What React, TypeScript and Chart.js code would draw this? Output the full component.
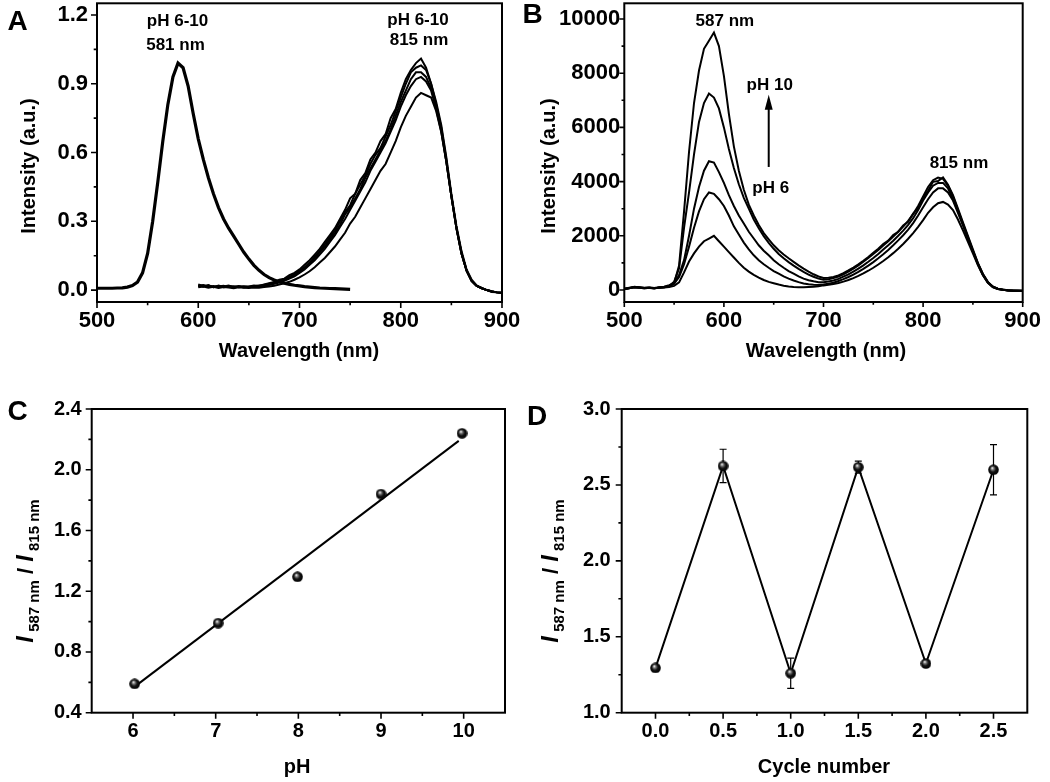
import React, { useEffect, useRef } from "react";
import { Chart, registerables } from "chart.js";
Chart.register(...registerables);

const FONT = '"Liberation Sans", Arial, Helvetica, sans-serif';

// ---------------- Panel A data ----------------
const wlA1 = [500,505,510,515,520,525,530,535,540,545,550,555,560,565,570,575,580,585,590,595,600,605,610,615,620,625,630,635,640,645,650,655,660,665,670,675,680,685,690,695,700,705,710,715,720,725,730,735,740,745,750];
const intA581 = [
  0.008,0.008,0.008,0.008,0.009,0.010,0.013,0.020,0.035,0.075,
  0.16,0.30,0.47,0.65,0.81,0.93,0.99,0.97,0.89,0.77,
  0.66,0.57,0.49,0.42,0.36,0.31,0.27,0.235,0.20,0.165,
  0.135,0.108,0.086,0.068,0.054,0.044,0.036,0.030,0.025,0.021,
  0.018,0.015,0.013,0.011,0.009,0.008,0.007,0.006,0.005,0.004,
  0.003];

const wlA2 = [600,605,610,615,620,625,630,635,640,645,650,655,660,665,670,675,680,685,690,695,700,705,710,715,720,725,730,735,740,745,750,755,760,765,770,775,780,785,790,795,800,805,810,815,820,825,830,835,840,845,850,855,860,865,870,875,880,885,890,895,900];
const intA815a = [
  0.025,0.018,0.02,0.015,0.018,0.012,0.016,0.014,0.018,0.013,
  0.016,0.02,0.018,0.025,0.03,0.035,0.045,0.05,0.065,0.075,
  0.09,0.11,0.13,0.155,0.18,0.21,0.24,0.27,0.31,0.35,
  0.40,0.42,0.48,0.51,0.57,0.60,0.65,0.68,0.75,0.79,
  0.86,0.92,0.96,0.99,1.01,0.97,0.9,0.82,0.72,0.58,
  0.42,0.28,0.17,0.09,0.045,0.02,0.01,0.0,-0.005,-0.01,
  -0.012];
const intA815b = [
  0.02,0.015,0.022,0.012,0.016,0.019,0.013,0.017,0.012,0.015,
  0.014,0.017,0.02,0.022,0.028,0.033,0.04,0.048,0.058,0.07,
  0.085,0.1,0.12,0.145,0.17,0.2,0.23,0.26,0.3,0.34,
  0.37,0.42,0.46,0.5,0.55,0.59,0.62,0.67,0.72,0.78,
  0.84,0.9,0.95,0.97,0.98,0.96,0.9,0.81,0.71,0.57,
  0.41,0.27,0.16,0.085,0.04,0.018,0.008,0.0,-0.008,-0.01,
  -0.012];
const intA815c = [
  0.018,0.022,0.014,0.018,0.012,0.016,0.02,0.013,0.016,0.011,
  0.015,0.013,0.016,0.02,0.024,0.03,0.036,0.044,0.054,0.066,
  0.08,0.095,0.115,0.14,0.165,0.19,0.22,0.25,0.285,0.33,
  0.36,0.4,0.44,0.49,0.53,0.57,0.61,0.65,0.7,0.76,
  0.82,0.87,0.92,0.95,0.95,0.93,0.88,0.8,0.7,0.56,
  0.41,0.27,0.16,0.085,0.04,0.018,0.008,0.0,-0.006,-0.01,
  -0.013];
const intA815d = [
  0.015,0.02,0.017,0.012,0.02,0.014,0.018,0.012,0.015,0.017,
  0.013,0.015,0.014,0.018,0.022,0.027,0.033,0.04,0.05,0.06,
  0.075,0.09,0.11,0.13,0.155,0.18,0.21,0.24,0.275,0.31,
  0.35,0.39,0.43,0.47,0.52,0.56,0.6,0.64,0.69,0.74,
  0.8,0.85,0.89,0.92,0.93,0.91,0.87,0.79,0.69,0.56,
  0.41,0.27,0.16,0.085,0.04,0.018,0.008,0.0,-0.006,-0.01,
  -0.012];
const intA815e = [
  0.012,0.016,0.01,0.014,0.009,0.013,0.011,0.008,0.012,0.01,
  0.009,0.011,0.01,0.013,0.016,0.019,0.024,0.03,0.036,0.045,
  0.055,0.068,0.082,0.1,0.12,0.14,0.165,0.19,0.22,0.25,
  0.29,0.32,0.36,0.4,0.44,0.48,0.52,0.55,0.6,0.65,
  0.71,0.76,0.8,0.84,0.86,0.85,0.84,0.78,0.69,0.56,
  0.41,0.27,0.16,0.085,0.04,0.018,0.008,0.0,-0.006,-0.01,
  -0.012];

// ---------------- Panel B data ----------------
const wlB = [500,505,510,515,520,525,530,535,540,545,550,555,560,565,570,575,580,585,590,595,600,605,610,615,620,625,630,635,640,645,650,655,660,665,670,675,680,685,690,695,700,705,710,715,720,725,730,735,740,745,750,755,760,765,770,775,780,785,790,795,800,805,810,815,820,825,830,835,840,845,850,855,860,865,870,875,880,885,890,895,900];
const intB_pH10 = [
  30,60,120,100,80,90,70,100,120,180,
  250,900,2900,5100,6900,8100,8900,9200,9500,9000,
  7900,6500,5300,4400,3700,3150,2750,2400,2100,1870,
  1650,1470,1310,1170,1040,910,790,680,580,500,
  440,450,480,540,620,720,830,950,1080,1220,
  1370,1520,1700,1820,2030,2150,2380,2520,2820,3010,
  3400,3660,3990,4020,4150,3880,3500,3000,2500,2000,
  1500,1000,600,300,130,50,15,-5,-20,-25,
  -30];
const intB_pH9 = [
  40,70,110,90,70,80,60,90,110,150,
  300,800,2300,3600,5000,6200,6900,7250,7100,6700,
  6000,5200,4500,3900,3400,3000,2600,2280,1990,1740,
  1520,1330,1170,1030,900,780,670,570,490,420,
  380,400,440,500,580,680,790,910,1040,1180,
  1330,1480,1640,1800,1970,2150,2340,2550,2800,3100,
  3450,3800,4050,4150,4100,3850,3450,2950,2450,1950,
  1450,980,580,290,120,45,10,-10,-20,-30,
  -30];
const intB_pH8 = [
  50,80,100,90,60,80,70,80,100,140,
  250,550,1100,2000,3000,3800,4400,4750,4700,4350,
  3950,3500,3100,2750,2450,2150,1900,1650,1450,1280,
  1100,950,820,700,600,500,420,360,320,290,
  290,310,350,410,490,580,680,790,910,1040,
  1180,1330,1490,1650,1820,2000,2190,2400,2650,2950,
  3300,3600,3850,3950,3950,3750,3350,2900,2420,1920,
  1430,960,570,280,115,40,5,-10,-25,-30,
  -35];
const intB_pH7 = [
  40,60,110,80,70,70,60,90,100,130,
  230,480,950,1600,2300,2900,3350,3600,3550,3350,
  3100,2750,2350,2050,1750,1500,1280,1100,950,820,
  700,600,500,420,350,290,240,210,190,180,
  200,230,270,330,400,480,570,670,780,900,
  1030,1170,1320,1480,1650,1830,2020,2230,2470,2750,
  3050,3350,3600,3750,3750,3600,3300,2850,2380,1900,
  1420,950,560,270,110,40,5,-15,-25,-30,
  -35];
const intB_pH6 = [
  50,70,100,90,70,80,60,80,90,110,
  150,280,650,1050,1350,1600,1800,1900,2000,1800,
  1600,1400,1200,1000,820,680,560,460,370,300,
  250,200,160,130,110,100,100,110,120,140,
  170,190,220,260,310,370,440,520,610,710,
  820,940,1070,1210,1360,1520,1700,1890,2100,2330,
  2580,2850,3050,3200,3250,3150,2950,2600,2200,1780,
  1350,920,540,260,105,35,5,-15,-25,-30,
  -30];

// ---------------- Panel C data ----------------
const pHValues = [6.02, 7.03, 7.99, 9.0, 9.98];
const ratioC = [0.59, 0.99, 1.295, 1.84, 2.24];
const fitX = [6.04, 9.94];
const fitY = [0.58, 2.19];

// ---------------- Panel D data ----------------
const cycleX = [0, 0.5, 1.0, 1.5, 2.0, 2.5];
const ratioD = [1.295, 2.625, 1.26, 2.617, 1.324, 2.6];
const errD = [0, 0.11, 0.1, 0.04, 0.01, 0.165];

// ---------------- Tick lists ----------------
const wlTicks = [500, 600, 700, 800, 900];
const wlMinor = [550, 650, 750, 850];
const aYTicks = [0, 0.3, 0.6, 0.9, 1.2];
const aYMinor = [0.15, 0.45, 0.75, 1.05];
const bYTicks = [0, 2000, 4000, 6000, 8000, 10000];
const bYMinor = [1000, 3000, 5000, 7000, 9000];
const cXTicks = [6, 7, 8, 9, 10];
const cXMinor = [6.5, 7.5, 8.5, 9.5];
const cYTicks = [0.4, 0.8, 1.2, 1.6, 2.0, 2.4];
const cYMinor = [0.6, 1.0, 1.4, 1.8, 2.2];
const dXTicks = [0, 0.5, 1.0, 1.5, 2.0, 2.5];
const dXMinor = [0.25, 0.75, 1.25, 1.75, 2.25];
const dYTicks = [1.0, 1.5, 2.0, 2.5, 3.0];
const dYMinor = [1.25, 1.75, 2.25, 2.75];

const xy = (xs: number[], ys: number[]) => xs.map((x, i) => ({ x, y: ys[i] }));

let ballCache: HTMLCanvasElement | null = null;
function ball(): HTMLCanvasElement {
  if (ballCache) return ballCache;
  const c = document.createElement("canvas");
  c.width = 11; c.height = 11;
  const g = c.getContext("2d")!;
  const grad = g.createRadialGradient(4.2, 3.8, 0.3, 5.5, 5.5, 5.5);
  grad.addColorStop(0, "#f2f2f2");
  grad.addColorStop(0.22, "#7a7a7a");
  grad.addColorStop(0.55, "#111");
  grad.addColorStop(1, "#000");
  g.fillStyle = grad;
  g.beginPath(); g.arc(5.5, 5.5, 5.3, 0, Math.PI * 2); g.fill();
  ballCache = c;
  return c;
}

type Txt = { text: string; x: number; y: number; size: number; data?: boolean; rot?: boolean };
interface Spec {
  w: number; h: number;
  area: { left: number; right: number; top: number; bottom: number };
  xMin: number; xMax: number; yMin: number; yMax: number;
  xTicks: number[]; xMinor: number[]; yTicks: number[]; yMinor: number[];
  xFmt: (v: number) => string; yFmt: (v: number) => string;
  xPad: number; yPad: number; tickLen: number; tickFont: number;
  datasets: any[];
  texts: Txt[];
  ratioTitle?: { x: number; y: number };
  extra?: (chart: any) => void;
  under?: (chart: any) => void;
}

function drawRatioTitle(ctx: CanvasRenderingContext2D, bx: number, cy: number) {
  const segs = [
    { t: "I", f: `italic bold 24px ${FONT}`, dy: 0 },
    { t: " 587 nm", f: `bold 15px ${FONT}`, dy: 6 },
    { t: " / ", f: `bold 22px ${FONT}`, dy: 0 },
    { t: "I", f: `italic bold 24px ${FONT}`, dy: 0 },
    { t: " 815 nm", f: `bold 15px ${FONT}`, dy: 6 },
  ];
  let total = 0;
  const widths = segs.map((s) => { ctx.font = s.f; const w = ctx.measureText(s.t).width; total += w; return w; });
  ctx.save();
  ctx.translate(bx, cy);
  ctx.rotate(-Math.PI / 2);
  ctx.textAlign = "left";
  ctx.textBaseline = "alphabetic";
  let x = -total / 2;
  segs.forEach((s, i) => { ctx.font = s.f; ctx.fillText(s.t, x, s.dy); x += widths[i]; });
  ctx.restore();
}

function framePlugin(s: Spec) {
  return {
    id: "frame",
    beforeDatasetsDraw(chart: any) {
      if (s.under) { chart.ctx.save(); s.under(chart); chart.ctx.restore(); }
    },
    afterDraw(chart: any) {
      const { ctx, chartArea: a } = chart;
      const xs = chart.scales.x, ys = chart.scales.y;
      ctx.save();
      ctx.strokeStyle = "#000";
      ctx.lineWidth = 2;
      ctx.strokeRect(a.left, a.top, a.right - a.left, a.bottom - a.top);
      ctx.lineWidth = 1.6;
      ctx.beginPath();
      s.xTicks.forEach((v) => { const p = xs.getPixelForValue(v); ctx.moveTo(p, a.bottom); ctx.lineTo(p, a.bottom + s.tickLen); });
      s.xMinor.forEach((v) => { const p = xs.getPixelForValue(v); ctx.moveTo(p, a.bottom); ctx.lineTo(p, a.bottom + s.tickLen * 0.55); });
      s.yTicks.forEach((v) => { const p = ys.getPixelForValue(v); ctx.moveTo(a.left, p); ctx.lineTo(a.left - s.tickLen, p); });
      s.yMinor.forEach((v) => { const p = ys.getPixelForValue(v); ctx.moveTo(a.left, p); ctx.lineTo(a.left - s.tickLen * 0.55, p); });
      ctx.stroke();
      ctx.fillStyle = "#000";
      ctx.textAlign = "center";
      ctx.textBaseline = "middle";
      s.texts.forEach((t) => {
        ctx.font = `bold ${t.size}px ${FONT}`;
        let x = t.x, y = t.y;
        if (t.data) { x = xs.getPixelForValue(t.x); y = ys.getPixelForValue(t.y); }
        if (t.rot) {
          ctx.save(); ctx.translate(x, y); ctx.rotate(-Math.PI / 2); ctx.fillText(t.text, 0, 0); ctx.restore();
        } else ctx.fillText(t.text, x, y);
      });
      if (s.ratioTitle) drawRatioTitle(ctx, s.ratioTitle.x, s.ratioTitle.y);
      if (s.extra) s.extra(chart);
      ctx.restore();
    },
  };
}

function buildConfig(s: Spec): any {
  const tickFont = { family: FONT, size: s.tickFont, weight: "bold" as const };
  const zeroPad = (sc: any) => { sc.paddingLeft = 0; sc.paddingRight = 0; sc.paddingTop = 0; sc.paddingBottom = 0; };
  return {
    type: "line",
    data: { datasets: s.datasets },
    options: {
      responsive: false,
      animation: false,
      events: [],
      layout: { padding: { top: s.area.top, right: s.w - s.area.right, left: 0, bottom: 0 } },
      plugins: { legend: { display: false }, tooltip: { enabled: false }, title: { display: false } },
      elements: { line: { tension: 0 }, point: { radius: 0 } },
      scales: {
        x: {
          type: "linear", position: "bottom", min: s.xMin, max: s.xMax,
          grid: { display: false, drawTicks: false }, border: { display: false },
          ticks: { autoSkip: false, maxRotation: 0, minRotation: 0, padding: s.xPad, color: "#000", font: tickFont,
            callback: (v: number) => s.xFmt(v) },
          afterBuildTicks: (sc: any) => { sc.ticks = s.xTicks.map((v) => ({ value: v })); },
          afterFit: (sc: any) => { sc.height = s.h - s.area.bottom; zeroPad(sc); },
        },
        y: {
          type: "linear", position: "left", min: s.yMin, max: s.yMax,
          grid: { display: false, drawTicks: false }, border: { display: false },
          ticks: { autoSkip: false, padding: s.yPad, color: "#000", font: tickFont,
            callback: (v: number) => s.yFmt(v) },
          afterBuildTicks: (sc: any) => { sc.ticks = s.yTicks.map((v) => ({ value: v })); },
          afterFit: (sc: any) => { sc.width = s.area.left; zeroPad(sc); },
        },
      },
    },
    plugins: [framePlugin(s)],
  };
}

const lineDs = (data: any[], width: number) => ({
  data, borderColor: "#000", borderWidth: width, pointRadius: 0, fill: false, tension: 0,
});

function specA(): Spec {
  return {
    w: 540, h: 395, area: { left: 97, right: 502, top: 3.3, bottom: 302 },
    xMin: 500, xMax: 900, yMin: -0.052, yMax: 1.251,
    xTicks: wlTicks, xMinor: wlMinor, yTicks: aYTicks, yMinor: aYMinor,
    xFmt: (v) => String(v), yFmt: (v) => v.toFixed(1),
    xPad: 6, yPad: 9, tickLen: 6, tickFont: 22,
    datasets: [
      lineDs(xy(wlA1, intA581), 3.2),
      lineDs(xy(wlA2, intA815a), 2),
      lineDs(xy(wlA2, intA815b), 2),
      lineDs(xy(wlA2, intA815c), 2),
      lineDs(xy(wlA2, intA815d), 2),
      lineDs(xy(wlA2, intA815e), 2),
    ],
    texts: [
      { text: "A", x: 17.5, y: 22.5, size: 28 },
      { text: "Wavelength (nm)", x: 299, y: 351, size: 20 },
      { text: "Intensity (a.u.)", x: 29.5, y: 166, size: 20, rot: true },
      { text: "pH 6-10", x: 579.5, y: 1.171, size: 17, data: true },
      { text: "581 nm", x: 577.5, y: 1.069, size: 17, data: true },
      { text: "pH 6-10", x: 817, y: 1.178, size: 17, data: true },
      { text: "815 nm", x: 818, y: 1.091, size: 17, data: true },
    ],
  };
}

function specB(): Spec {
  return {
    w: 540, h: 395, area: { left: 114.3, right: 512.7, top: 3.3, bottom: 302 },
    xMin: 500, xMax: 900, yMin: -443, yMax: 10579,
    xTicks: wlTicks, xMinor: wlMinor, yTicks: bYTicks, yMinor: bYMinor,
    xFmt: (v) => String(v), yFmt: (v) => String(Math.round(v)),
    xPad: 6, yPad: 4, tickLen: 5, tickFont: 22,
    datasets: [
      lineDs(xy(wlB, intB_pH10), 2),
      lineDs(xy(wlB, intB_pH9), 2),
      lineDs(xy(wlB, intB_pH8), 2),
      lineDs(xy(wlB, intB_pH7), 2),
      lineDs(xy(wlB, intB_pH6), 2),
    ],
    texts: [
      { text: "B", x: 22.5, y: 15, size: 28 },
      { text: "Wavelength (nm)", x: 316, y: 351, size: 20 },
      { text: "Intensity (a.u.)", x: 39.5, y: 166, size: 20, rot: true },
      { text: "587 nm", x: 601, y: 9900, size: 17, data: true },
      { text: "pH 10", x: 646, y: 7565, size: 17, data: true },
      { text: "pH 6", x: 647, y: 3760, size: 17, data: true },
      { text: "815 nm", x: 836, y: 4680, size: 17, data: true },
    ],
    extra: (chart: any) => {
      const { ctx } = chart;
      const xs = chart.scales.x, ys = chart.scales.y;
      const px = xs.getPixelForValue(645);
      const tail = ys.getPixelForValue(4540);
      const tip = ys.getPixelForValue(7200);
      ctx.strokeStyle = "#000"; ctx.lineWidth = 2;
      ctx.beginPath(); ctx.moveTo(px, tail); ctx.lineTo(px, tip + 12); ctx.stroke();
      ctx.beginPath(); ctx.moveTo(px, tip); ctx.lineTo(px - 4, tip + 15); ctx.lineTo(px + 4, tip + 15); ctx.closePath(); ctx.fill();
    },
  };
}

function specC(): Spec {
  return {
    w: 540, h: 397, area: { left: 91.7, right: 505, top: 24, bottom: 327.7 },
    xMin: 5.5, xMax: 10.5, yMin: 0.4, yMax: 2.4,
    xTicks: cXTicks, xMinor: cXMinor, yTicks: cYTicks, yMinor: cYMinor,
    xFmt: (v) => String(v), yFmt: (v) => v.toFixed(1),
    xPad: 7, yPad: 10, tickLen: 6, tickFont: 20,
    datasets: [
      { data: xy(pHValues, ratioC), showLine: false, pointStyle: ball(), pointRadius: 5.5, borderColor: "#000", backgroundColor: "#000" },
      lineDs(xy(fitX, fitY), 2),
    ],
    texts: [
      { text: "C", x: 17.5, y: 27.5, size: 28 },
      { text: "pH", x: 297, y: 382, size: 20 },
    ],
    ratioTitle: { x: 33, y: 186 },
  };
}

function specD(): Spec {
  return {
    w: 540, h: 397, area: { left: 111.7, right: 517.3, top: 24, bottom: 327.7 },
    xMin: -0.25, xMax: 2.75, yMin: 1.0, yMax: 3.0,
    xTicks: dXTicks, xMinor: dXMinor, yTicks: dYTicks, yMinor: dYMinor,
    xFmt: (v) => v.toFixed(1), yFmt: (v) => v.toFixed(1),
    xPad: 7, yPad: 11, tickLen: 6, tickFont: 20,
    datasets: [
      { data: xy(cycleX, ratioD), showLine: true, borderWidth: 2, borderColor: "#000", pointStyle: ball(), pointRadius: 5.5, tension: 0 },
    ],
    texts: [
      { text: "D", x: 27, y: 32.5, size: 28 },
      { text: "Cycle number", x: 314, y: 382, size: 20 },
    ],
    ratioTitle: { x: 48, y: 186 },
    under: (chart: any) => {
      const { ctx } = chart;
      const xs = chart.scales.x, ys = chart.scales.y;
      ctx.strokeStyle = "#000"; ctx.lineWidth = 1.2;
      cycleX.forEach((cx, i) => {
        if (errD[i] <= 0.015) return;
        const px = xs.getPixelForValue(cx);
        const hi = ys.getPixelForValue(ratioD[i] + errD[i]);
        const lo = ys.getPixelForValue(ratioD[i] - errD[i]);
        ctx.beginPath();
        ctx.moveTo(px, hi); ctx.lineTo(px, lo);
        ctx.moveTo(px - 3.5, hi); ctx.lineTo(px + 3.5, hi);
        ctx.moveTo(px - 3.5, lo); ctx.lineTo(px + 3.5, lo);
        ctx.stroke();
      });
    },
  };
}

function Panel({ make, left, top }: { make: () => Spec; left: number; top: number }) {
  const ref = useRef<HTMLCanvasElement>(null);
  const spec = make();
  useEffect(() => {
    const chart = new Chart(ref.current!, buildConfig(make()));
    return () => chart.destroy();
  }, []);
  return (
    <canvas
      ref={ref}
      width={spec.w}
      height={spec.h}
      style={{ position: "absolute", left, top, width: spec.w, height: spec.h }}
    />
  );
}

export default function App() {
  return (
    <div style={{ position: "absolute", left: 0, top: 0, width: 1050, height: 782, background: "#fff", overflow: "hidden" }}>
      <Panel make={specA} left={0} top={0} />
      <Panel make={specB} left={510} top={0} />
      <Panel make={specC} left={0} top={385} />
      <Panel make={specD} left={510} top={385} />
    </div>
  );
}
